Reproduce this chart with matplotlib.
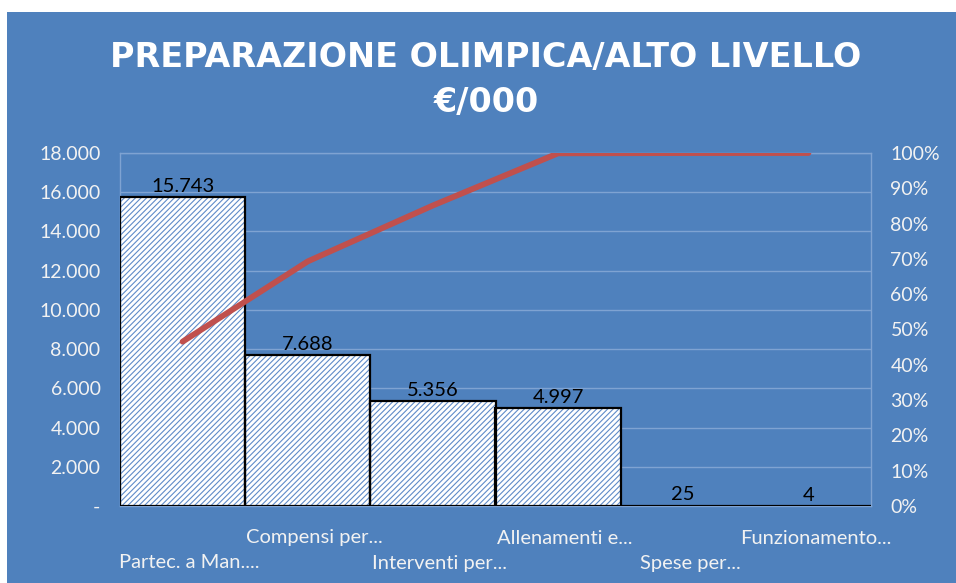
import matplotlib
matplotlib.use("Agg")
import matplotlib.pyplot as plt
from matplotlib.patches import Rectangle
from matplotlib.ticker import FuncFormatter, PercentFormatter
import numpy as np

categories = ["Partec. a Man....", "Compensi per...", "Interventi per...",
              "Allenamenti e...", "Spese per...", "Funzionamento..."]
values = [15743, 7688, 5356, 4997, 25, 4]
title = "PREPARAZIONE OLIMPICA/ALTO LIVELLO\n€/000"

BG = "#4F81BD"
GRID = "#7FA3D2"
TXT = "#F2F2F2"
RED = "#C0504D"
FONT = "Lato"


def fmt_it(v, pos=None):
    if v == 0:
        return "-"
    return f"{int(round(v)):,}".replace(",", ".")


fig = plt.figure(figsize=(9.56, 5.83), dpi=100, facecolor="white")
fig.patches.append(Rectangle((7 / 956, 0), 1, 1 - 12 / 583, transform=fig.transFigure,
                             facecolor=BG, edgecolor="none", zorder=-10))

ax = fig.add_axes([120 / 956, 1 - 506 / 583, 751 / 956, 353 / 583])
ax.set_facecolor("none")
x = np.arange(len(categories))

# hatched fill first, black outline on top
plt.rcParams["hatch.linewidth"] = 0.8
ax.bar(x, values, width=1.0, facecolor="white", edgecolor="#5F8BC8", hatch="//////",
       linewidth=0, zorder=2)
ax.bar(x, values, width=1.0, fill=False, edgecolor="black", linewidth=1.6, zorder=3)

for xi, v in zip(x, values):
    ax.text(xi, v + 120, fmt_it(v), ha="center", va="bottom", fontsize=14.5,
            color="black", family=FONT, zorder=5)

ax.set_xlim(-0.5, len(categories) - 0.5)
ax.set_ylim(0, 18000)
ax.set_yticks(np.arange(0, 18001, 2000))
ax.yaxis.set_major_formatter(FuncFormatter(fmt_it))
ax.grid(axis="y", color=GRID, linewidth=1, zorder=1)
ax.set_axisbelow(True)
for side in ["top", "bottom", "left", "right"]:
    ax.spines[side].set_color(GRID)
    ax.spines[side].set_linewidth(1)
ax.tick_params(axis="y", length=0, pad=14, labelcolor=TXT, labelsize=14)
ax.tick_params(axis="x", length=0)
for lab in ax.get_yticklabels():
    lab.set_family(FONT)

ax.set_xticks(x)
ax.set_xticklabels([])
for i, c in enumerate(categories):
    yoff = -57 if i % 2 == 0 else -32
    ax.annotate(c, (i, 0), xycoords=("data", "axes fraction"), xytext=(7, yoff),
                textcoords="offset pixels", ha="center", va="center",
                fontsize=14.5, color=TXT, family=FONT)

ax2 = ax.twinx()
cum = np.cumsum(values) / np.sum(values) * 100
ax2.plot(x, cum, color=RED, linewidth=4.2, solid_capstyle="round",
         solid_joinstyle="round", zorder=4)
ax2.set_ylim(0, 100)
ax2.set_yticks(np.arange(0, 101, 10))
ax2.yaxis.set_major_formatter(PercentFormatter(decimals=0))
ax2.tick_params(axis="y", length=0, pad=14, labelcolor=TXT, labelsize=14)
for lab in ax2.get_yticklabels():
    lab.set_family(FONT)
for side in ["top", "bottom", "left", "right"]:
    ax2.spines[side].set_visible(False)

fig.text(486 / 956, 1 - 80 / 583, title, ha="center", va="center", color="white",
         fontsize=24, fontweight="bold", family="DejaVu Sans", linespacing=1.45)

fig.savefig("out.png", dpi=100, facecolor="white")
